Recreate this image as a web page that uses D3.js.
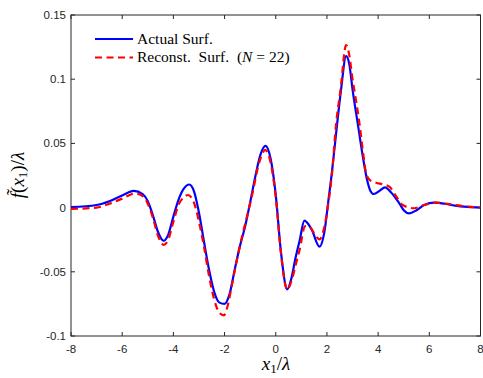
<!DOCTYPE html>
<html><head><meta charset="utf-8">
<script src="https://cdn.jsdelivr.net/npm/d3@7"></script>
<style>body{margin:0;background:#fff}svg{display:block}</style>
</head><body><div id="chart"></div>
<script>
const xTicks = [-8,-6,-4,-2,0,2,4,6,8];
const yTicks = [-0.1,-0.05,0,0.05,0.1,0.15];
const yTickLabels = ["-0.1","-0.05","0","0.05","0.1","0.15"];

const actualX = [-8,-7,-6.5,-6,-5.55,-5.2,-5,-4.8,-4.6,-4.38,-4.2,-4,-3.8,-3.6,-3.38,-3.2,-3,-2.8,-2.6,-2.4,-2.2,-2.0,-1.8,-1.6,-1.4,-1.2,-1,-0.8,-0.6,-0.4,-0.2,0,0.2,0.45,0.6,0.77,0.93,1.12,1.4,1.71,1.9,2.06,2.19,2.4,2.55,2.75,2.88,3.0,3.2,3.4,3.57,3.7,3.83,4.05,4.27,4.5,4.83,5.0,5.22,5.5,5.8,6.2,6.6,7.0,7.5,8];
const actualY = [0.0003,0.002,0.005,0.0095,0.013,0.0105,0.005,-0.006,-0.019,-0.0258,-0.021,-0.007,0.006,0.0145,0.018,0.013,-0.004,-0.027,-0.049,-0.066,-0.074,-0.075,-0.067,-0.048,-0.030,-0.015,0.004,0.024,0.041,0.048,0.038,0.010,-0.034,-0.0637,-0.056,-0.0395,-0.026,-0.0102,-0.017,-0.0304,-0.019,0.006,0.0267,0.0656,0.0916,0.118,0.111,0.092,0.066,0.040,0.0215,0.013,0.0106,0.013,0.0158,0.012,0.0033,-0.002,-0.0045,-0.002,0.002,0.0038,0.003,0.0015,0.0005,0.0];

const reconX = [-8,-7,-6.5,-6,-5.5,-5.2,-5,-4.8,-4.6,-4.38,-4.2,-4,-3.8,-3.6,-3.43,-3.2,-3,-2.8,-2.6,-2.4,-2.2,-2.03,-1.9,-1.7,-1.5,-1.3,-1.1,-0.9,-0.7,-0.5,-0.42,-0.2,0,0.2,0.45,0.6,0.8,0.93,1.15,1.32,1.5,1.71,1.9,2.06,2.19,2.36,2.53,2.75,2.88,3.0,3.07,3.27,3.43,3.53,3.7,3.92,4.2,4.44,4.7,4.96,5.4,5.8,6.26,6.7,7.2,8];
const reconY = [-0.001,0.0,0.003,0.007,0.011,0.009,0.003,-0.008,-0.022,-0.029,-0.025,-0.011,0.002,0.008,0.0098,0.004,-0.011,-0.031,-0.054,-0.072,-0.082,-0.084,-0.078,-0.059,-0.039,-0.021,-0.005,0.012,0.031,0.043,0.045,0.035,0.008,-0.035,-0.064,-0.058,-0.043,-0.033,-0.0145,-0.0149,-0.020,-0.0247,-0.015,0.004,0.025,0.0656,0.0916,0.1266,0.118,0.1,0.0916,0.0656,0.040,0.0267,0.021,0.0194,0.018,0.0163,0.009,0.002,-0.0005,0.002,0.0038,0.003,0.0015,0.0];

const W = 483, H = 378;
const svg = d3.select("#chart").append("svg").attr("width", W).attr("height", H);
const x = d3.scaleLinear().domain([-8, 8]).range([71, 480.5]);
const y = d3.scaleLinear().domain([-0.1, 0.15]).range([336, 15]);
const axisColor = "#262626";
const tickFont = "'Liberation Sans', Arial, sans-serif";

svg.append("rect").attr("x", x(-8)).attr("y", y(0.15)).attr("width", x(8) - x(-8)).attr("height", y(-0.1) - y(0.15))
  .attr("fill", "none").attr("stroke", axisColor).attr("stroke-width", 1);

const tl = 4;
xTicks.forEach(t => {
  svg.append("line").attr("x1", x(t)).attr("x2", x(t)).attr("y1", y(-0.1)).attr("y2", y(-0.1) - tl).attr("stroke", axisColor);
  svg.append("line").attr("x1", x(t)).attr("x2", x(t)).attr("y1", y(0.15)).attr("y2", y(0.15) + tl).attr("stroke", axisColor);
  svg.append("text").attr("x", x(t)).attr("y", y(-0.1) + 17).attr("text-anchor", "middle")
    .attr("font-family", tickFont).attr("font-size", 11.5).attr("fill", axisColor).text(String(t));
});
yTicks.forEach((t, i) => {
  svg.append("line").attr("x1", x(-8)).attr("x2", x(-8) + tl).attr("y1", y(t)).attr("y2", y(t)).attr("stroke", axisColor);
  svg.append("line").attr("x1", x(8)).attr("x2", x(8) - tl).attr("y1", y(t)).attr("y2", y(t)).attr("stroke", axisColor);
  svg.append("text").attr("x", x(-8) - 5).attr("y", y(t) + 4).attr("text-anchor", "end")
    .attr("font-family", tickFont).attr("font-size", 11.5).attr("fill", axisColor).text(yTickLabels[i]);
});

const line = d3.line().x(d => x(d[0])).y(d => y(d[1])).curve(d3.curveMonotoneX);
const actual = actualX.map((v, i) => [v, actualY[i]]);
const recon = reconX.map((v, i) => [v, reconY[i]]);

svg.append("path").attr("d", line(actual)).attr("fill", "none").attr("stroke", "#0000ff").attr("stroke-width", 2.2);
svg.append("path").attr("d", line(recon)).attr("fill", "none").attr("stroke", "#ff0000").attr("stroke-width", 2.2)
  .attr("stroke-dasharray", "7,4.5");

const serif = "'Liberation Serif', 'DejaVu Serif', serif";
svg.append("line").attr("x1", 95).attr("x2", 133).attr("y1", 39).attr("y2", 39).attr("stroke", "#0000ff").attr("stroke-width", 2.2);
svg.append("line").attr("x1", 95).attr("x2", 133).attr("y1", 57.5).attr("y2", 57.5).attr("stroke", "#ff0000").attr("stroke-width", 2.2).attr("stroke-dasharray", "7,4.5");
svg.append("text").attr("x", 137).attr("y", 43.5).attr("font-family", serif).attr("font-size", 15.5).attr("fill", "#000").text("Actual Surf.");
const t2 = svg.append("text").attr("x", 137).attr("y", 62).attr("font-family", serif).attr("font-size", 15.5).attr("fill", "#000");
t2.append("tspan").text("Reconst.\u00a0 Surf.\u00a0 (");
t2.append("tspan").attr("font-style", "italic").text("N");
t2.append("tspan").text("\u00a0=\u00a022)");

const xl = svg.append("text").attr("x", 276).attr("y", 370).attr("text-anchor", "middle").attr("font-family", serif).attr("font-size", 19).attr("fill", "#000");
xl.append("tspan").attr("font-style", "italic").text("x");
xl.append("tspan").attr("font-size", 13).attr("dy", 3).text("1");
xl.append("tspan").attr("dy", -3).text("/");
xl.append("tspan").attr("font-style", "italic").text("λ");

const yl = svg.append("text").attr("transform", "translate(24,175) rotate(-90)").attr("text-anchor", "middle").attr("font-family", serif).attr("font-size", 19).attr("fill", "#000");
yl.append("tspan").attr("font-style", "italic").text("f\u0303");
yl.append("tspan").text("(");
yl.append("tspan").attr("font-style", "italic").text("x");
yl.append("tspan").attr("font-size", 13).attr("dy", 3).text("1");
yl.append("tspan").attr("dy", -3).text(")/");
yl.append("tspan").attr("font-style", "italic").text("λ");
</script></body></html>
